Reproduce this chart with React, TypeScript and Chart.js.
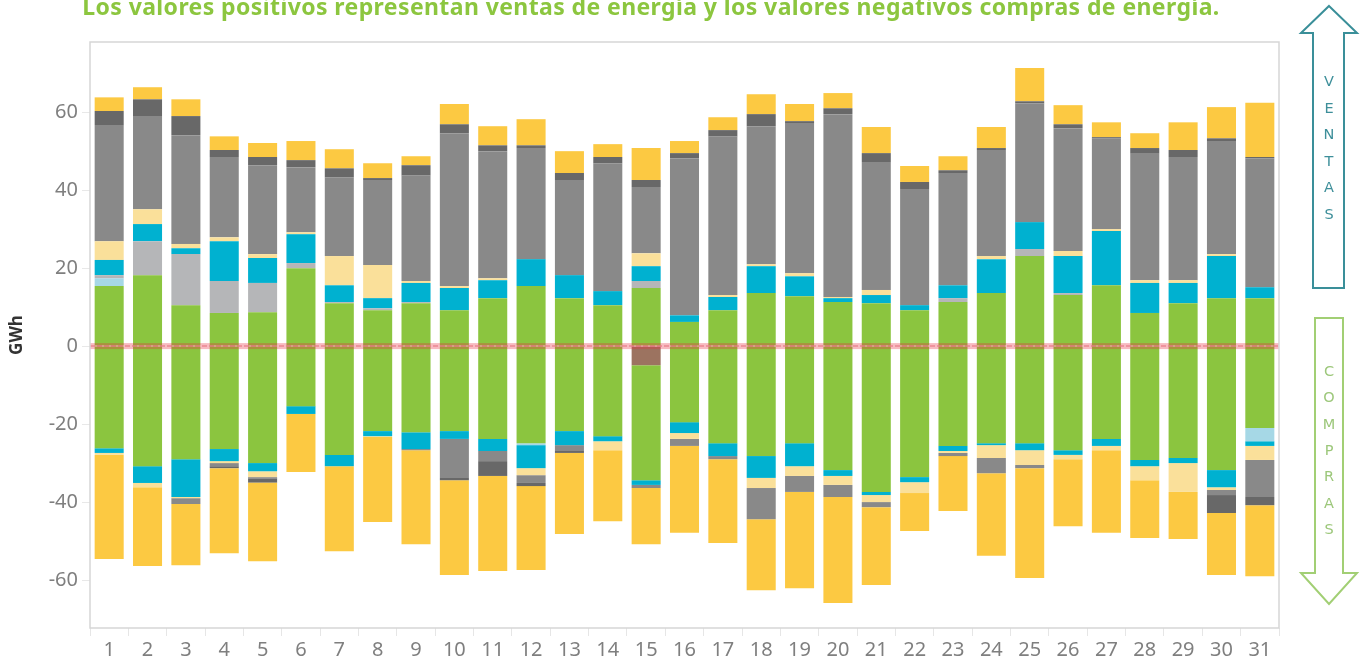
import React, { useEffect, useRef } from "react";
import { Chart, registerables } from "chart.js";

Chart.register(...registerables);

// ---------- DATA ----------
const days = ["1","2","3","4","5","6","7","8","9","10","11","12","13","14","15","16","17","18","19","20","21","22","23","24","25","26","27","28","29","30","31"];
const yTickValues = [-60, -40, -20, 0, 20, 40, 60];

// Ventas (positive)
const greenPos = [15.4,18.2,10.5,8.5,8.7,20.0,11.0,9.2,11.0,9.2,12.3,15.4,12.3,10.5,14.9,6.2,9.2,13.6,12.8,11.3,11.0,9.2,11.3,13.6,23.1,13.1,15.6,8.5,11.0,12.3,12.3];
const lightBluePos = [2.0,0,0,0,0,0,0,0,0,0,0,0,0,0,0,0,0,0,0,0,0,0,0,0,0,0,0,0,0,0,0];
const lightGrayPos = [0.8,8.7,13.1,8.2,7.5,1.3,0.3,0.5,0.3,0,0,0,0,0,1.8,0,0,0,0,0,0,0,1.0,0,1.8,0.5,0,0,0,0,0];
const cyanPos = [3.9,4.4,1.5,10.2,6.4,7.4,4.3,2.6,4.9,5.7,4.6,6.9,5.9,3.6,3.8,1.7,3.4,6.9,5.1,1.0,2.1,1.3,3.3,8.7,6.9,9.5,13.9,7.7,5.2,10.8,2.8];
const lightYellowPos = [4.8,3.8,1.1,1.0,1.0,0.5,7.5,8.5,0.5,0.5,0.5,0,0,0,3.3,0,0.5,0.5,0.8,0.3,1.3,0,0,0.8,0,1.3,0.5,0.7,0.7,0.5,0];
const grayPos = [29.8,23.9,27.9,20.6,22.8,16.7,20.2,21.8,27.1,39.2,32.6,28.5,24.4,32.8,17.0,40.3,40.7,35.4,38.5,46.9,32.8,29.8,28.8,27.2,30.5,31.5,23.3,32.6,31.6,29.0,33.1];
const darkGrayPos = [3.6,4.3,4.9,1.8,2.1,1.8,2.3,0.5,2.6,2.3,1.5,0.7,1.8,1.6,1.8,1.3,1.6,3.1,0.5,1.5,2.3,1.8,0.7,0.5,0.5,1.0,0.3,1.3,1.8,0.7,0.3];
const yellowPos = [3.5,3.1,4.3,3.5,3.6,4.9,4.9,3.8,2.3,5.2,4.9,6.7,5.6,3.3,8.2,3.1,3.3,5.1,4.4,3.9,6.7,4.1,3.6,5.4,8.5,4.9,3.8,3.8,7.1,8.0,13.9];

// Compras (negative)
const brownNeg = [0,0,0,0,0,0,0,0,0,0,0,0,0,0,-4.9,0,0,0,0,0,0,0,0,0,0,0,0,0,0,0,0];
const greenNeg = [-26.2,-30.8,-29.0,-26.4,-30.0,-15.4,-27.9,-21.8,-22.1,-21.8,-23.8,-24.9,-21.8,-23.1,-29.5,-19.5,-24.9,-28.2,-24.9,-31.8,-37.4,-33.6,-25.6,-24.9,-24.9,-26.7,-23.8,-29.2,-28.7,-31.8,-21.0];
const lightBlueNeg = [0,0,0,0,0,0,0,0,0,0,0,-0.5,0,0,0,0,0,0,0,0,0,0,0,0,0,0,0,0,0,0,-3.4];
const cyanNeg = [-1.2,-4.3,-9.7,-3.1,-2.1,-2.0,-2.9,-1.3,-4.3,-2.0,-3.1,-5.9,-3.6,-1.3,-1.2,-2.8,-3.3,-5.6,-5.9,-1.5,-0.8,-1.3,-1.3,-0.5,-1.8,-1.2,-1.8,-1.6,-1.3,-4.4,-1.2];
const lightYellowNeg = [-0.5,-1.1,-0.3,-0.5,-1.5,0,0,-0.2,0,0,0,-1.8,0,-2.3,0,-1.5,0,-2.6,-2.5,-2.3,-1.8,-2.8,-0.5,-3.3,-3.8,-1.1,-1.1,-3.6,-7.4,-0.7,-3.6];
const grayNeg = [0,0,-1.5,-0.8,-0.3,0,0,0,-0.3,-10.0,-2.6,-2.0,-1.5,0,-0.8,-1.8,-0.8,-8.0,-4.1,-3.1,-1.3,0,-0.8,-3.9,-0.8,0,0,0,0,-1.3,-9.5];
const darkGrayNeg = [0,0,0,-0.5,-1.1,0,0,0,0,-0.6,-3.8,-0.8,-0.5,0,0,0,0,0,0,0,0,0,0,0,0,0,0,0,0,-4.6,-2.1];
const yellowNeg = [-26.7,-20.2,-15.7,-21.8,-20.2,-14.9,-21.8,-21.8,-24.1,-24.3,-24.4,-21.5,-20.8,-18.2,-14.4,-22.3,-21.5,-18.2,-24.7,-27.2,-20.0,-9.7,-14.1,-21.2,-28.2,-17.2,-21.2,-14.8,-12.1,-15.9,-18.2];

const titleText = "Los valores positivos representan ventas de energía y los valores negativos compras de energía.";
const ventasLetters = ["V", "E", "N", "T", "A", "S"];
const comprasLetters = ["C", "O", "M", "P", "R", "A", "S"];

// ---------- STYLE ----------
const C = {
  brown: "#9C7360",
  green: "#8BC53F",
  lightBlue: "#A6D8E6",
  lightGray: "#B5B6B8",
  cyan: "#00B1D0",
  lightYellow: "#FAE09A",
  gray: "#898989",
  darkGray: "#686868",
  yellow: "#FCC942",
};

const clean = (a: number[]) => a.map((v) => (v === 0 ? null : v));

const seriesDefs: [string, number[], string][] = [
  ["Compras brown", brownNeg, C.brown],
  ["Ventas green", greenPos, C.green],
  ["Compras green", greenNeg, C.green],
  ["Ventas light blue", lightBluePos, C.lightBlue],
  ["Compras light blue", lightBlueNeg, C.lightBlue],
  ["Ventas light gray", lightGrayPos, C.lightGray],
  ["Ventas cyan", cyanPos, C.cyan],
  ["Compras cyan", cyanNeg, C.cyan],
  ["Ventas light yellow", lightYellowPos, C.lightYellow],
  ["Compras light yellow", lightYellowNeg, C.lightYellow],
  ["Ventas gray", grayPos, C.gray],
  ["Compras gray", grayNeg, C.gray],
  ["Ventas dark gray", darkGrayPos, C.darkGray],
  ["Compras dark gray", darkGrayNeg, C.darkGray],
  ["Ventas yellow", yellowPos, C.yellow],
  ["Compras yellow", yellowNeg, C.yellow],
];

const overlayPlugin = {
  id: "overlay",
  afterDatasetsDraw(chart: any) {
    const { ctx, chartArea: a, scales } = chart;
    const y0 = scales.y.getPixelForValue(0);
    ctx.save();
    ctx.fillStyle = "rgba(232,40,62,0.32)";
    ctx.fillRect(a.left, y0 - 3, a.right - a.left, 6);
    ctx.strokeStyle = "rgba(215,55,80,0.30)";
    ctx.lineWidth = 2;
    ctx.setLineDash([5, 2]);
    ctx.beginPath();
    ctx.moveTo(a.left, y0);
    ctx.lineTo(a.right, y0);
    ctx.stroke();
    ctx.setLineDash([]);
    ctx.strokeStyle = "#d6d6d6";
    ctx.lineWidth = 1.5;
    ctx.strokeRect(a.left, a.top, a.right - a.left, a.bottom - a.top);
    ctx.restore();
  },
};

export default function App() {
  const ref = useRef<HTMLCanvasElement | null>(null);

  useEffect(() => {
    if (!ref.current) return;
    const chart = new Chart(ref.current, {
      type: "bar",
      data: {
        labels: days,
        datasets: seriesDefs.map(([label, data, color]) => ({
          label,
          data: clean(data),
          backgroundColor: color,
          borderWidth: 0,
          barPercentage: 0.757,
          categoryPercentage: 1,
        })),
      },
      options: {
        responsive: false,
        animation: false,
        layout: { padding: { left: 0, top: 42, right: 11, bottom: 0 } },
        plugins: { legend: { display: false }, tooltip: { enabled: false }, title: { display: false } },
        scales: {
          x: {
            stacked: true,
            offset: true,
            grid: { display: true, drawOnChartArea: false, drawTicks: true, tickLength: 8, color: "#e6e6e6", offset: true },
            border: { display: false },
            ticks: { color: "#7f7f7f", font: { family: "'Noto Sans', sans-serif", size: 20 }, padding: 2, maxRotation: 0, autoSkip: false },
            afterFit: (s: any) => { s.height = 35; },
          },
          y: {
            stacked: true,
            min: -72.3,
            max: 78,
            afterBuildTicks: (s: any) => { s.ticks = yTickValues.map((v) => ({ value: v })); },
            grid: { display: true, drawOnChartArea: false, drawTicks: true, tickLength: 8, color: "#e8e8e8" },
            border: { display: false },
            ticks: { color: "#7f7f7f", font: { family: "'Noto Sans', sans-serif", size: 20 }, padding: 4 },
            title: { display: true, text: "GWh", color: "#333333", font: { family: "'Noto Sans', sans-serif", size: 17, weight: "bold" }, padding: { top: 7, bottom: 0 } },
            afterFit: (s: any) => { s.width = 90; },
          },
        },
      },
      plugins: [overlayPlugin],
    } as any);
    return () => chart.destroy();
  }, []);

  const upArrow = "1329,6 1357,33 1344,33 1344,288 1313,288 1313,33 1301,33";
  const downArrow = "1315,318 1343,318 1343,573 1357,573 1329,604 1301,573 1315,573";

  return (
    <div style={{ position: "absolute", left: 0, top: 0, width: 1367, height: 663, overflow: "hidden", background: "#ffffff" }}>
      <canvas ref={ref} width={1290} height={663} style={{ position: "absolute", left: 0, top: 0 }} />
      <svg width={1367} height={663} style={{ position: "absolute", left: 0, top: 0, pointerEvents: "none" }}>
        <text x={651} y={15} textAnchor="middle" fontFamily="'Noto Sans', sans-serif" fontWeight={700} fontSize={23} letterSpacing={0.4} fill="#8CC63F">
          {titleText}
        </text>
        <polygon points={upArrow} fill="none" stroke="#3A8F99" strokeWidth={2} strokeLinejoin="miter" />
        {ventasLetters.map((l, i) => (
          <text key={"v" + i} x={1329} y={86 + i * 26.6} textAnchor="middle" fontFamily="'DejaVu Sans', sans-serif" fontSize={14.5} fill="#3E8F9A">{l}</text>
        ))}
        <polygon points={downArrow} fill="none" stroke="#A2CF74" strokeWidth={2} strokeLinejoin="miter" />
        {comprasLetters.map((l, i) => (
          <text key={"c" + i} x={1329} y={376 + i * 26.3} textAnchor="middle" fontFamily="'DejaVu Sans', sans-serif" fontSize={14.5} fill="#9CC77A">{l}</text>
        ))}
      </svg>
    </div>
  );
}
